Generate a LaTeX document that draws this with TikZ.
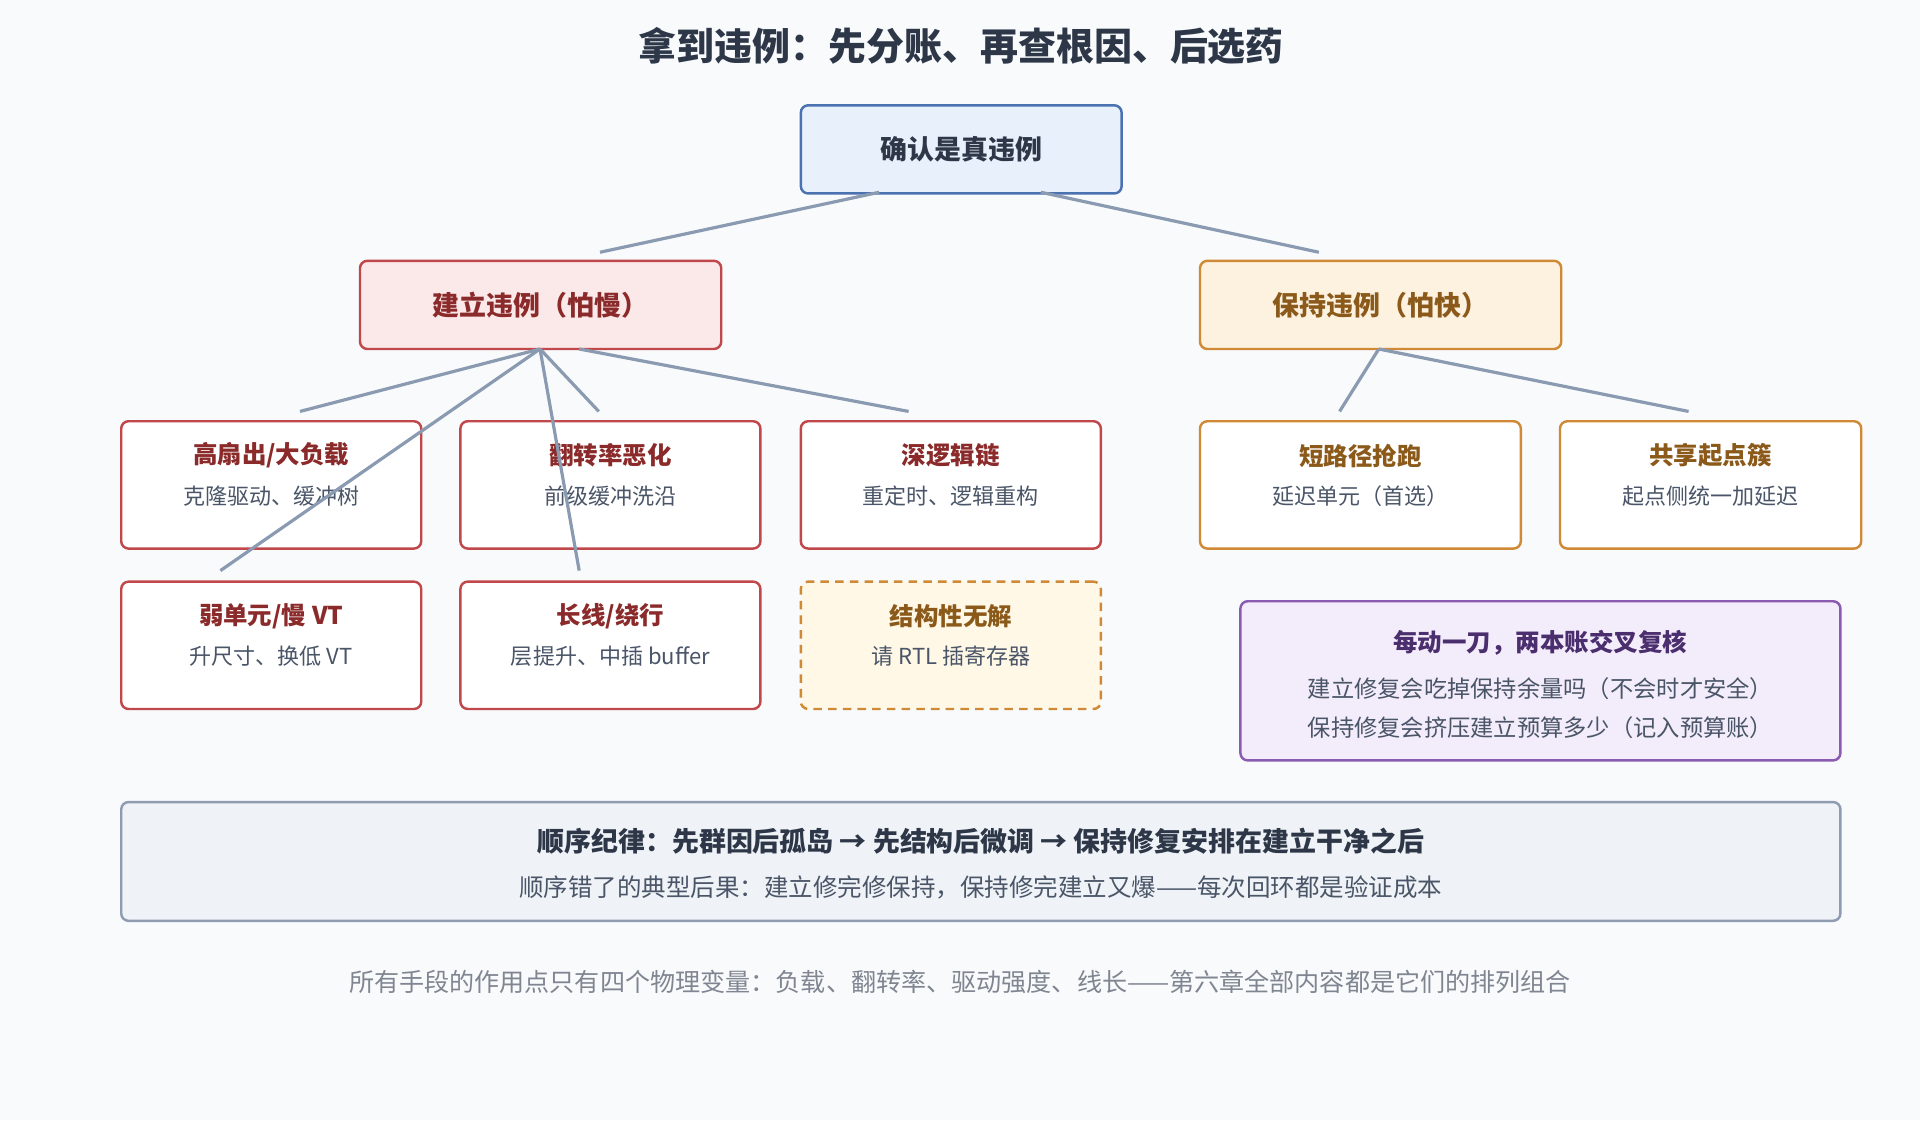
\documentclass[tikz,border=0pt]{standalone}
\usepackage{fontspec}
\setmainfont{Noto Sans CJK SC}
\begin{document}
\begin{tikzpicture}[x=1pt,y=-1pt,
 box/.style={draw,line width=2pt,rounded corners=6pt,anchor=north west,inner sep=0pt},
 ln/.style={draw=lc,line width=2.6pt},
 tt/.style={font=\fontsize{20}{24}\selectfont\bfseries},
 bt/.style={font=\fontsize{22}{26}\selectfont\bfseries},
 st/.style={font=\fontsize{18}{21}\selectfont,text=subc}]
\definecolor{lc}{HTML}{8A9AB0}\definecolor{subc}{HTML}{4A5568}
\definecolor{redb}{HTML}{C0474A}\definecolor{redt}{HTML}{8B2A2A}
\definecolor{orb}{HTML}{D08A35}\definecolor{ort}{HTML}{8B5A1A}
\definecolor{pub}{HTML}{8A5BB0}\definecolor{put}{HTML}{4A2E6E}
\definecolor{navy}{HTML}{2D3748}
\fill[fill={rgb,255:red,248;green,250;blue,252}] (0,0) rectangle (1568,915);
\useasboundingbox (0,0) rectangle (1568,915);
\node[font=\fontsize{31}{36}\selectfont\bfseries,text=navy] (title) at (785,38) {拿到违例：先分账、再查根因、后选药};
% lines
\coordinate (a1) at (718,157);\coordinate (a2) at (490,206);
\coordinate (b1) at (850,157);\coordinate (b2) at (1077,206);
\coordinate (c0) at (441,285);\coordinate (c1) at (245,336);\coordinate (c2) at (180,466);
\coordinate (c3) at (489,336);\coordinate (c4) at (473,466);
\coordinate (d0) at (473,285);\coordinate (d1) at (742,336);
\coordinate (e0) at (1126,285);\coordinate (e1) at (1094,336);\coordinate (e2) at (1379,336);
% boxes
\node[box,draw={rgb,255:red,74;green,114;blue,176},fill={rgb,255:red,232;green,240;blue,251},minimum width=262pt,minimum height=72pt] (top) at (653,85) {};
\node[bt,text=navy] at (top.center) {确认是真违例};
\node[box,draw=redb,fill={rgb,255:red,251;green,232;blue,232},minimum width=295pt,minimum height=72pt] (build) at (293,212) {};
\node[bt,text=redt] at (build.center) {建立违例（怕慢）};
\node[box,draw=orb,fill={rgb,255:red,253;green,241;blue,224},minimum width=295pt,minimum height=72pt] (hold) at (979,212) {};
\node[bt,text=ort] at (hold.center) {保持违例（怕快）};
\foreach \n/\x/\y/\w/\c/\tc/\a/\b in {
 r1/98/343/245/redb/redt/高扇出\slash 大负载/克隆驱动、缓冲树,
 r2/375/343/245/redb/redt/翻转率恶化/前级缓冲洗沿,
 r3/653/343/245/redb/redt/深逻辑链/重定时、逻辑重构,
 r4/979/343/262/orb/ort/短路径抢跑/延迟单元（首选）,
 r5/1273/343/246/orb/ort/共享起点簇/起点侧统一加延迟,
 s1/98/474/245/redb/redt/弱单元\slash 慢 VT/升尺寸、换低 VT,
 s2/375/474/245/redb/redt/长线\slash 绕行/层提升、中插 buffer}{
 \node[box,draw=\c,fill=white,minimum width=\w pt,minimum height=104pt] (\n) at (\x,\y) {};
 \node[tt,text=\tc] at ([yshift=-29pt]\n.north) {\a};
 \node[st] at ([yshift=-62pt]\n.north) {\b};
}
\node[box,draw=orb,dash pattern=on 7pt off 5pt,fill={rgb,255:red,255;green,248;blue,230},minimum width=245pt,minimum height=104pt] (s3) at (653,474) {};
\node[tt,text=ort] at ([yshift=-29pt]s3.north) {结构性无解};
\node[st] at ([yshift=-62pt]s3.north) {请 RTL 插寄存器};
\node[box,draw=pub,fill={rgb,255:red,243;green,236;blue,250},minimum width=490pt,minimum height=130pt] (pu) at (1012,490) {};
\node[tt,text=put] at ([yshift=-35pt]pu.north) {每动一刀，两本账交叉复核};
\node[st,font=\fontsize{19}{22}\selectfont] at ([yshift=-72pt]pu.north) {建立修复会吃掉保持余量吗（不会时才安全）};
\node[st,font=\fontsize{19}{22}\selectfont] at ([yshift=-104pt]pu.north) {保持修复会挤压建立预算多少（记入预算账）};
\node[box,draw={rgb,255:red,143;green,155;blue,176},fill={rgb,255:red,239;green,243;blue,247},minimum width=1404pt,minimum height=97pt] (ord) at (98,654) {};
\node[font=\fontsize{22}{26}\selectfont\bfseries,text=navy] at ([yshift=-33pt]ord.north) {顺序纪律：先群因后孤岛 → 先结构后微调 → 保持修复安排在建立干净之后};
\node[st,font=\fontsize{20}{23}\selectfont] at ([yshift=-71pt]ord.north) {顺序错了的典型后果：建立修完修保持，保持修完建立又爆——每次回环都是验证成本};
\node[font=\fontsize{20.5}{24}\selectfont,text={rgb,255:red,128;green,134;blue,145}] (foot) at (784,802) {所有手段的作用点只有四个物理变量：负载、翻转率、驱动强度、线长——第六章全部内容都是它们的排列组合};
\draw[ln] (a1)--(a2); \draw[ln] (b1)--(b2);
\draw[ln] (c0)--(c1); \draw[ln] (c0)--(c2); \draw[ln] (c0)--(c3); \draw[ln] (c0)--(c4);
\draw[ln] (d0)--(d1); \draw[ln] (e0)--(e1); \draw[ln] (e0)--(e2);
\end{tikzpicture}
\end{document}
